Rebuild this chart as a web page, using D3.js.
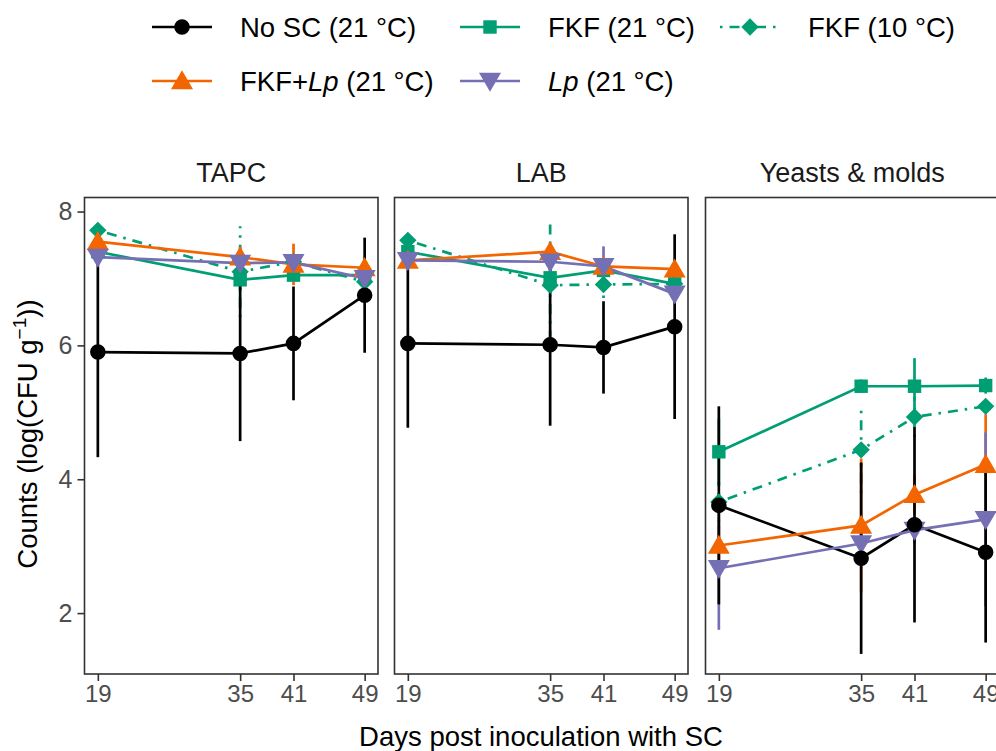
<!DOCTYPE html>
<html><head><meta charset="utf-8">
<script src="https://cdn.jsdelivr.net/npm/d3@7"></script>
<style>body{margin:0;background:#fff}svg{display:block;font-family:"Liberation Sans",Arial,sans-serif}</style>
</head><body><svg id="c" width="996" height="751"></svg>
<script>
const days = [19, 35, 41, 49];
const xTicks = [19, 35, 41, 49];
const yTicks = [2, 4, 6, 8];
const panels = ["TAPC", "LAB", "Yeasts & molds"];
const seriesKeys = ["FKF21", "FKF10", "FKFLp", "Lp", "NoSC"];
const colors = {NoSC:"#000000", FKF21:"#009e73", FKF10:"#009e73", FKFLp:"#f26500", Lp:"#7570b3"};
const shapes = {NoSC:"circle", FKF21:"square", FKF10:"diamond", FKFLp:"up", Lp:"down"};
// means per panel [TAPC, LAB, Y&M]
const meanNoSC  = [[5.90,5.88,6.03,6.75],[6.03,6.01,5.97,6.28],[3.61,2.82,3.32,2.91]];
const sdNoSC    = [[1.57,1.31,0.85,0.86],[1.26,1.21,0.69,1.38],[1.48,1.43,1.46,1.35]];
const meanFKF21 = [[7.40,6.98,7.05,7.05],[7.40,7.01,7.12,6.92],[4.41,5.39,5.39,5.40]];
const sdFKF21   = [[0.10,0.15,0.10,0.10],[0.10,0.10,0.10,0.10],[0.50,0.10,0.42,0.12]];
const meanFKF10 = [[7.72,7.10,7.25,6.95],[7.57,6.90,6.91,6.92],[3.66,4.44,4.93,5.09]];
const sdFKF10   = [[0.10,0.68,0.20,0.10],[0.10,0.97,0.20,0.10],[0.30,0.64,0.30,0.10]];
const meanFKFLp = [[7.55,7.32,7.21,7.16],[7.27,7.40,7.18,7.14],[3.01,3.31,3.77,4.22]];
const sdFKFLp   = [[0.10,0.15,0.31,0.10],[0.10,0.10,0.10,0.10],[0.30,1.00,0.30,0.75]];
const meanLp    = [[7.32,7.23,7.24,7.00],[7.27,7.25,7.18,6.77],[2.67,3.04,3.24,3.40]];
const sdLp      = [[0.10,0.10,0.10,0.10],[0.10,0.10,0.30,0.10],[0.92,0.20,0.20,1.30]];
const means = {NoSC:meanNoSC, FKF21:meanFKF21, FKF10:meanFKF10, FKFLp:meanFKFLp, Lp:meanLp};
const sds = {NoSC:sdNoSC, FKF21:sdFKF21, FKF10:sdFKF10, FKFLp:sdFKFLp, Lp:sdLp};
const dashes = {FKF10:"2.5,7,10,7"};

const svg = d3.select("#c");
const panelLeft = [84.5, 394.5, 705.5];
const pw = 293.5, panelTop = 197.5, ph = 476.5;
const x = d3.scaleLinear().domain([17.5, 50.5]).range([0, pw]);
const y = d3.scaleLinear().domain([1.09, 8.21]).range([ph, 0]);
const LW = 2.7;

function symbolPath(shape){
  const m = {circle:[d3.symbolCircle,190], square:[d3.symbolSquare,180], diamond:[d3.symbolSquare,150], up:[d3.symbolTriangle,210], down:[d3.symbolTriangle,210]};
  return d3.symbol().type(m[shape][0]).size(m[shape][1])();
}
function drawPoint(g, k, cx, cy){
  const s = shapes[k];
  let rot = s==="down" ? 180 : (s==="diamond" ? 45 : 0);
  let dy = s==="up" ? 2 : (s==="down" ? -2 : 0);
  g.append("path").attr("d", symbolPath(s))
   .attr("transform", `translate(${cx},${cy+dy}) rotate(${rot})`)
   .attr("fill", colors[k]);
}

panels.forEach((p, pi) => {
  const g = svg.append("g").attr("transform", `translate(${panelLeft[pi]},${panelTop})`);
  const data = k => days.map((d,i)=>({d, m:means[k][pi][i], s:sds[k][pi][i]}));
  seriesKeys.forEach(k => {
    g.selectAll(null).data(data(k)).enter().append("line")
      .attr("x1", d=>x(d.d)).attr("x2", d=>x(d.d))
      .attr("y1", d=>y(d.m - d.s)).attr("y2", d=>y(d.m + d.s))
      .attr("stroke", colors[k]).attr("stroke-width", LW)
      .attr("stroke-dasharray", dashes[k]||null);
  });
  ["NoSC","FKF21","FKF10","FKFLp","Lp"].forEach(k => {
    g.append("path").datum(data(k))
      .attr("d", d3.line().x(d=>x(d.d)).y(d=>y(d.m)))
      .attr("fill","none").attr("stroke", colors[k]).attr("stroke-width", LW)
      .attr("stroke-dasharray", dashes[k]||null);
  });
  seriesKeys.forEach(k => {
    data(k).forEach(d => drawPoint(g, k, x(d.d), y(d.m)));
  });
  g.append("rect").attr("x",0).attr("y",0).attr("width",pw).attr("height",ph)
    .attr("fill","none").attr("stroke","#333333").attr("stroke-width",1.6);
  svg.append("text").attr("x", panelLeft[pi]+pw/2).attr("y", 182).attr("text-anchor","middle")
    .attr("font-size", 27).attr("fill","#1a1a1a").text(p);
  const xa = svg.append("g").attr("transform", `translate(${panelLeft[pi]},${panelTop+ph})`)
    .call(d3.axisBottom(x).tickValues(xTicks).tickSize(7).tickPadding(4).tickSizeOuter(0));
  xa.select(".domain").remove();
  xa.selectAll("line").attr("stroke","#333333").attr("stroke-width",1.6);
  xa.selectAll("text").attr("font-size",24).attr("fill","#4d4d4d").attr("font-family","Liberation Sans, Arial, sans-serif");
  if (pi===0){
    const ya = svg.append("g").attr("transform", `translate(${panelLeft[pi]},${panelTop})`)
      .call(d3.axisLeft(y).tickValues(yTicks).tickSize(7).tickPadding(5).tickSizeOuter(0));
    ya.select(".domain").remove();
    ya.selectAll("line").attr("stroke","#333333").attr("stroke-width",1.6);
    ya.selectAll("text").attr("font-size",25).attr("fill","#4d4d4d").attr("font-family","Liberation Sans, Arial, sans-serif");
  }
});

svg.append("text").attr("x", 541).attr("y", 746).attr("text-anchor","middle")
  .attr("font-size",27.5).attr("fill","#000").text("Days post inoculation with SC");
const yt = svg.append("text").attr("transform","translate(37,434) rotate(-90)").attr("text-anchor","middle")
  .attr("font-size",27.5).attr("fill","#000");
yt.append("tspan").text("Counts (log(CFU g");
yt.append("tspan").attr("dy",-11).attr("font-size",19).text("\u22121");
yt.append("tspan").attr("dy",11).text("))");

const legendItems = [
  {k:"NoSC", x:152, y:27, parts:[["No SC (21 °C)",false]]},
  {k:"FKF21", x:460, y:27, parts:[["FKF (21 °C)",false]]},
  {k:"FKF10", x:720, y:27, parts:[["FKF (10 °C)",false]]},
  {k:"FKFLp", x:152, y:81, parts:[["FKF+",false],["Lp",true],[" (21 °C)",false]]},
  {k:"Lp", x:460, y:81, parts:[["Lp",true],[" (21 °C)",false]]}
];
legendItems.forEach(it => {
  const g = svg.append("g");
  g.append("line").attr("x1", it.x).attr("x2", it.x+60).attr("y1", it.y).attr("y2", it.y)
    .attr("stroke", colors[it.k]).attr("stroke-width", LW).attr("stroke-dasharray", dashes[it.k]||null);
  drawPoint(g, it.k, it.x+30, it.y);
  const t = g.append("text").attr("x", it.x+88).attr("y", it.y+10).attr("font-size",27.5).attr("fill","#000");
  it.parts.forEach(([s,ital]) => t.append("tspan").attr("font-style", ital?"italic":null).text(s));
});
</script></body></html>
